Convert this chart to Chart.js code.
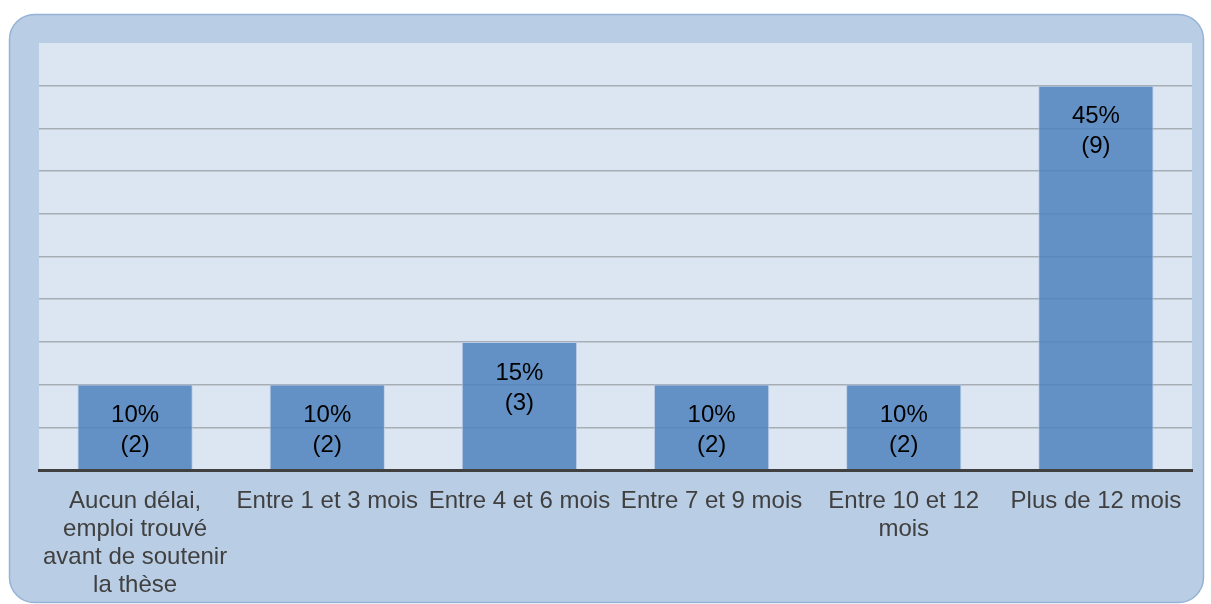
<!DOCTYPE html>
<html>
<head>
<meta charset="utf-8">
<script src="https://cdn.jsdelivr.net/npm/chart.js@4/dist/chart.umd.min.js"></script>
<style>
html,body{margin:0;padding:0;background:#ffffff;}
#wrap{position:relative;width:1211px;height:604px;}
</style>
</head>
<body>
<div id="wrap"><canvas id="c" width="1211" height="604"></canvas></div>
<script>
const categories = [
  ["Aucun délai,", "emploi trouvé", "avant de soutenir", "la thèse"],
  "Entre 1 et 3 mois",
  "Entre 4 et 6 mois",
  "Entre 7 et 9 mois",
  ["Entre 10 et 12", "mois"],
  "Plus de 12 mois"
];
const percentValues = [10, 10, 15, 10, 10, 45];
const counts = [2, 2, 3, 2, 2, 9];
const yTicks = [0, 5, 10, 15, 20, 25, 30, 35, 40, 45];
const yMax = 50;

const frame = {
  id: 'frame',
  beforeDraw(chart) {
    const ctx = chart.ctx;
    const a = chart.chartArea;
    ctx.save();
    ctx.beginPath();
    ctx.roundRect(9.5, 14.5, 1194, 588, 25);
    ctx.fillStyle = '#b9cde5';
    ctx.fill();
    ctx.lineWidth = 1.5;
    ctx.strokeStyle = '#95b3d7';
    ctx.stroke();
    ctx.fillStyle = '#dce6f2';
    ctx.fillRect(a.left, a.top, a.right - a.left, a.bottom - a.top);
    ctx.restore();
  }
};

const labelsPlugin = {
  id: 'barLabels',
  afterDatasetsDraw(chart) {
    const ctx = chart.ctx;
    const meta = chart.getDatasetMeta(0);
    ctx.save();
    ctx.font = '24px "Liberation Sans", Arial, sans-serif';
    ctx.fillStyle = '#000000';
    ctx.textAlign = 'center';
    ctx.textBaseline = 'middle';
    meta.data.forEach((bar, i) => {
      ctx.fillText(percentValues[i] + '%', bar.x, bar.y + 31);
      ctx.fillText('(' + counts[i] + ')', bar.x, bar.y + 61);
    });
    ctx.restore();
  }
};

new Chart(document.getElementById('c'), {
  type: 'bar',
  data: {
    labels: categories,
    datasets: [{
      data: percentValues,
      backgroundColor: 'rgba(79,129,189,0.85)',
      borderColor: 'rgba(185,205,229,0.9)',
      borderWidth: 1,
      barPercentage: 0.6,
      categoryPercentage: 1
    }]
  },
  options: {
    responsive: false,
    animation: false,
    devicePixelRatio: 1,
    layout: { padding: { left: 39, top: 43, right: 19, bottom: 10 } },
    plugins: { legend: { display: false }, tooltip: { enabled: false } },
    scales: {
      x: {
        grid: { display: false, drawTicks: false },
        border: { display: true, color: '#404040', width: 3, z: 1 },
        ticks: {
          color: '#404040',
          padding: 17,
          maxRotation: 0,
          autoSkip: false,
          font: { family: '"Liberation Sans", Arial, sans-serif', size: 24, lineHeight: '28px' }
        },
        afterFit(scale) { scale.height = 124; }
      },
      y: {
        min: 0,
        max: yMax,
        afterBuildTicks(scale) { scale.ticks = yTicks.map(v => ({ value: v })); },
        grid: { color: '#a7adb4', lineWidth: 1.5, drawTicks: false },
        border: { display: false },
        ticks: { display: false },
        afterFit(scale) { scale.width = 0; }
      }
    }
  },
  plugins: [frame, labelsPlugin]
});
</script>
</body>
</html>
